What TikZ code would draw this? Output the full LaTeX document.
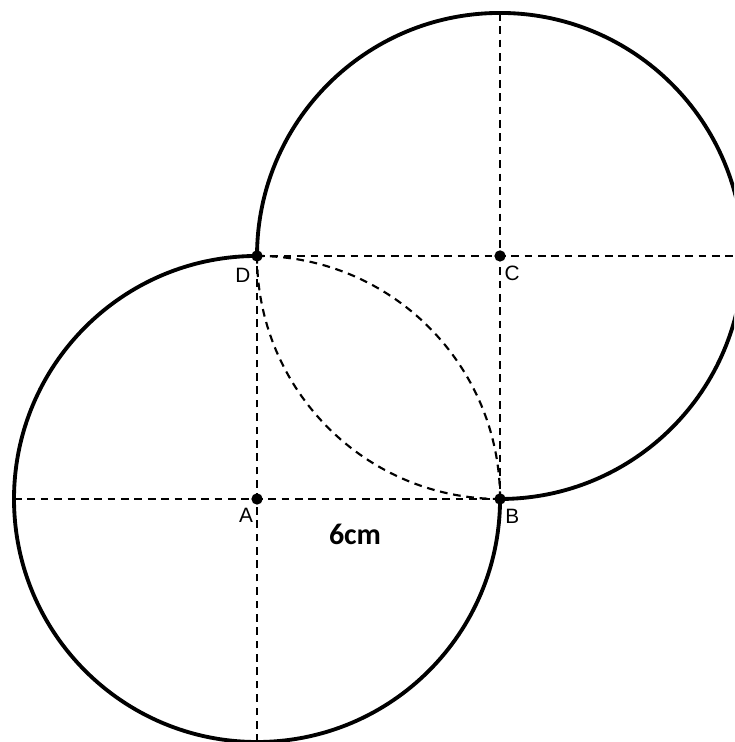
\documentclass[tikz,border=0pt]{standalone}
\usepackage{fontspec}
\setmainfont{Liberation Sans}
\newfontfamily\lenfont{Carlito}
\begin{document}
\begin{tikzpicture}[
  rim/.style={line width=1.35pt},
  guide/.style={line width=0.75pt, dash pattern=on 2.7pt off 2pt},
  pt/.style={circle, fill, inner sep=0pt, minimum size=0.14cm},
  lbl/.style={font=\fontsize{7.3}{8}\selectfont, inner sep=0pt}
]
  \clip (-3.173,-3) rectangle (5.889,6.16);
  % corners of the square
  \coordinate (A) at (0,0);
  \coordinate (B) at (3,0);
  \coordinate (C) at (3,3);
  \coordinate (D) at (0,3);
  \coordinate (W) at (-3,0);
  \coordinate (S) at (0,-3);
  \coordinate (N) at (3,6);
  \coordinate (E) at (6,3);
  % the two circles
  \draw[rim] (D) arc[start angle=90, end angle=360, radius=3];
  \draw[rim] (D) arc[start angle=180, end angle=-90, radius=3];
  \draw[guide] (B) arc[start angle=0, end angle=90, radius=3];
  \draw[guide] (D) arc[start angle=180, end angle=270, radius=3];
  % axes through the centres
  \draw[guide] (W) -- (B);
  \draw[guide] (S) -- (D);
  \draw[guide] (D) -- (E);
  \draw[guide] (N) -- (B);
  \foreach \p in {A,B,C,D}
    \node[pt] (dot\p) at (\p) {};
  \node[lbl] (labA) at (-0.136,-0.2) {A};
  \node[lbl] (labB) at (3.15,-0.21) {B};
  \node[lbl] (labC) at (3.15,2.79) {C};
  \node[lbl] (labD) at (-0.175,2.765) {D};
  \node[font=\lenfont\bfseries\fontsize{10.5}{12}\selectfont] (len) at (1.21,-0.44) {6cm};
\end{tikzpicture}
\end{document}
